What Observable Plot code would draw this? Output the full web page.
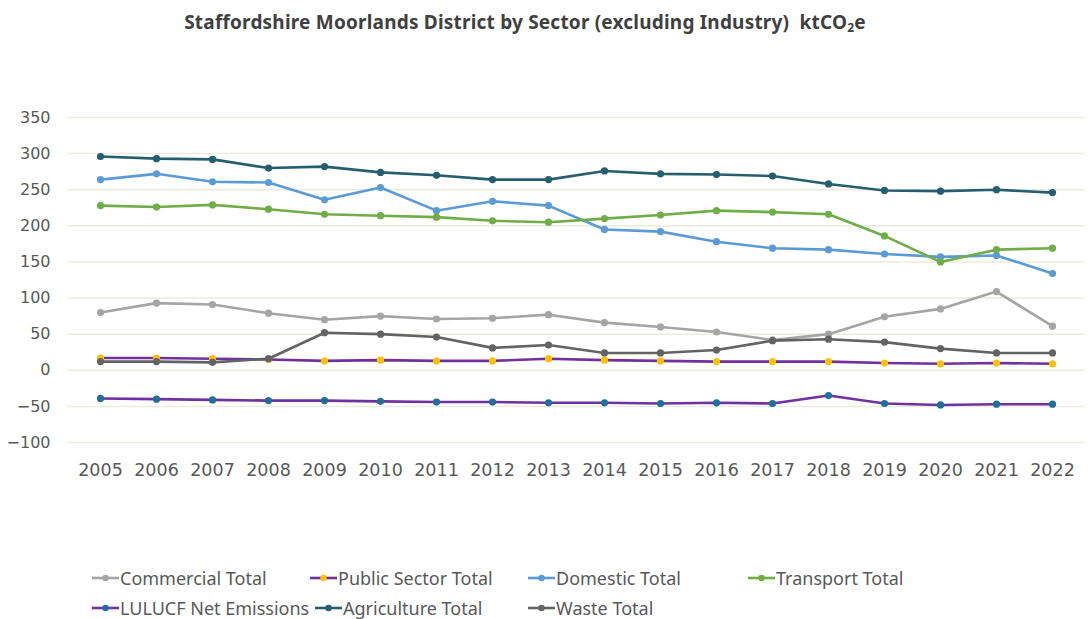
<!DOCTYPE html>
<html>
<head>
<meta charset="utf-8">
<script src="https://cdn.jsdelivr.net/npm/d3@7"></script>
<script src="https://cdn.jsdelivr.net/npm/@observablehq/plot@0.6"></script>
<style>
  html, body { margin: 0; padding: 0; background: #fff; }
  #wrap { position: relative; width: 1089px; height: 619px; overflow: hidden; }
  #title { position: absolute; left: 0; top: 9px; width: 1050px; text-align: center;
           font-family: "Noto Sans", sans-serif; font-weight: bold; font-size: 19px; letter-spacing: 0.2px; color: #404040; }
  #title sub { font-size: 12px; vertical-align: -3px; }
  #chart { position: absolute; left: 0; top: 45px; }
  #legend { position: absolute; left: 0; top: 566px; width: 1089px; height: 53px;
            font-family: "Noto Sans", sans-serif; font-size: 18px; color: #595959; }
  .li { position: absolute; display: flex; align-items: center; white-space: nowrap; height: 24px; }
  .li svg { margin-right: 1px; }
</style>
</head>
<body>
<div id="wrap">
  <div id="title">Staffordshire Moorlands District by Sector (excluding Industry)&nbsp; ktCO<sub>2</sub>e</div>
  <div id="chart"></div>
  <div id="legend"></div>
</div>
<script>
const years = [2005,2006,2007,2008,2009,2010,2011,2012,2013,2014,2015,2016,2017,2018,2019,2020,2021,2022];
const yTicks = [-100,-50,0,50,100,150,200,250,300,350];

const seriesNames = ["Commercial Total","Public Sector Total","Domestic Total","Transport Total","LULUCF Net Emissions","Agriculture Total","Waste Total"];

const commercial  = [80, 93, 91, 79, 70, 75, 71, 72, 77, 66, 60, 53, 42, 50, 74, 85, 109, 61];
const publicSector= [17, 17, 16, 15, 13, 14, 13, 13, 16, 14, 13, 12, 12, 12, 10, 9, 10, 9];
const domestic    = [264, 272, 261, 260, 236, 253, 221, 234, 228, 195, 192, 178, 169, 167, 161, 157, 159, 134];
const transport   = [228, 226, 229, 223, 216, 214, 212, 207, 205, 210, 215, 221, 219, 216, 186, 150, 167, 169];
const lulucf      = [-39, -40, -41, -42, -42, -43, -44, -44, -45, -45, -46, -45, -46, -35, -46, -48, -47, -47];
const agriculture = [296, 293, 292, 280, 282, 274, 270, 264, 264, 276, 272, 271, 269, 258, 249, 248, 250, 246];
const waste       = [12, 12, 11, 16, 52, 50, 46, 31, 35, 24, 24, 28, 41, 43, 39, 30, 24, 24];

const seriesValues = [commercial, publicSector, domestic, transport, lulucf, agriculture, waste];

// styles
const lineColors   = ["#a5a5a5","#7030a0","#5b9bd5","#70ad47","#7030a0","#255e6e","#636363"];
const markerColors = ["#a5a5a5","#ffc000","#5b9bd5","#70ad47","#1f6f96","#255e6e","#636363"];

const rows = [];
seriesNames.forEach((name, i) => {
  seriesValues[i].forEach((v, j) => rows.push({series: name, year: years[j], value: v, idx: i}));
});

const marks = [
  Plot.gridY(yTicks, {stroke: "#ebebdf", strokeOpacity: 1, strokeWidth: 1.5}),
  Plot.axisY(yTicks, {tickSize: 0, tickPadding: 17, fontSize: 16, fontFamily: "DejaVu Sans", fill: "#595959", label: null}),
  Plot.axisX(years, {tickSize: 0, tickPadding: 21, fontSize: 17.5, fontFamily: "DejaVu Sans", fill: "#595959", label: null, tickFormat: d => String(d)})
];
seriesNames.forEach((name, i) => {
  const data = rows.filter(r => r.idx === i);
  marks.push(Plot.line(data, {x: "year", y: "value", stroke: lineColors[i], strokeWidth: 2.6, curve: "linear"}));
  marks.push(Plot.dot(data, {x: "year", y: "value", fill: markerColors[i], r: 3.6, stroke: "none"}));
});

const chart = Plot.plot({
  width: 1089,
  height: 500,
  marginTop: 72,
  marginBottom: 103,
  marginLeft: 67,
  marginRight: 4,
  x: {type: "point", domain: years, padding: 0.46},
  y: {domain: [-100, 350]},
  style: {background: "transparent", overflow: "visible"},
  marks
});
document.getElementById("chart").appendChild(chart);

// legend layout
const legendPos = [[92, 0], [310, 0], [528, 0], [748, 0], [92, 30], [315, 30], [528, 30]];
const legend = document.getElementById("legend");
seriesNames.forEach((name, i) => {
  const d = document.createElement("div");
  d.className = "li";
  d.style.left = legendPos[i][0] + "px";
  d.style.top = legendPos[i][1] + "px";
  d.innerHTML = `<svg width="27" height="10"><line x1="0" y1="5" x2="27" y2="5" stroke="${lineColors[i]}" stroke-width="2.6"/><circle cx="13.5" cy="5" r="3.2" fill="${markerColors[i]}"/></svg><span>${name}</span>`;
  legend.appendChild(d);
});
</script>
</body>
</html>
